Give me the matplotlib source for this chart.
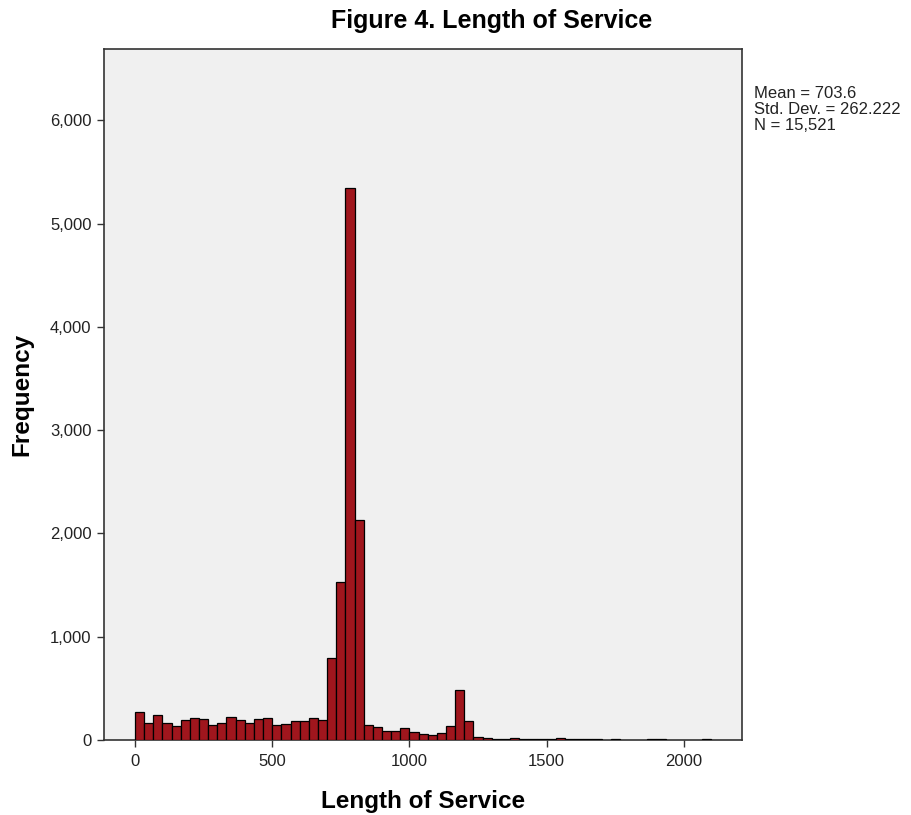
import numpy as np
import matplotlib
matplotlib.use("Agg")
import matplotlib.pyplot as plt

# =========================
# Data
# =========================
bin_start = 0.0
bin_width = 100 / 3  # ~33.3 days per bin
counts = [
    274, 168, 242, 162, 136, 194, 210, 205, 142, 168,
    220, 194, 168, 203, 210, 145, 155, 187, 187, 213,
    194, 798, 1528, 5349, 2133, 148, 130, 85, 85, 115,
    82, 56, 48, 67, 137, 482, 186, 26, 22, 11,
    11, 18, 8, 6, 6, 8, 15, 8, 6, 6,
    6, 0, 5, 0, 0, 0, 5, 5, 0, 0,
    0, 0, 5,
]
stats_lines = ["Mean = 703.6", "Std. Dev. = 262.222", "N = 15,521"]
x_ticks = [0, 500, 1000, 1500, 2000]
y_ticks = [0, 1000, 2000, 3000, 4000, 5000, 6000]

plt.rcParams["font.family"] = ["Liberation Sans", "DejaVu Sans"]

# =========================
# Figure
# =========================
fig = plt.figure(figsize=(9.11, 8.15), dpi=100)
ax = fig.add_axes([104 / 911, 75 / 815, 638 / 911, 691 / 815])
ax.set_facecolor("#f0f0f0")

counts = np.array(counts)
lefts = bin_start + np.arange(len(counts)) * bin_width
keep = counts > 0
ax.bar(lefts[keep], counts[keep], width=bin_width, align="edge",
       color="#a0161d", edgecolor="black", linewidth=0.9, zorder=3)

ax.set_xlim(-113, 2212)
ax.set_ylim(0, 6690)
ax.set_xticks(x_ticks)
ax.set_yticks(y_ticks)
ax.set_yticklabels([f"{v:,}" for v in y_ticks])

for s in ax.spines.values():
    s.set_color("#333333")
    s.set_linewidth(1.2)

ax.tick_params(axis="both", direction="out", length=5, width=1,
               color="#333333", labelsize=12, labelcolor="#222222")
ax.tick_params(axis="y", pad=4)
ax.tick_params(axis="x", pad=5)

ax.set_xlabel("Length of Service", fontsize=17.5, fontweight="bold", labelpad=15)
ax.set_ylabel("Frequency", fontsize=17.5, fontweight="bold", labelpad=12)

fig.text(492 / 911, 1 - 21 / 815, "Figure 4. Length of Service",
         ha="center", va="center", fontsize=18, fontweight="bold")

fig.text(754 / 911, 1 - 86 / 815, "\n".join(stats_lines),
         ha="left", va="top", fontsize=12, linespacing=1.1, color="#222222")

fig.savefig("out.png", dpi=100, facecolor="white")
